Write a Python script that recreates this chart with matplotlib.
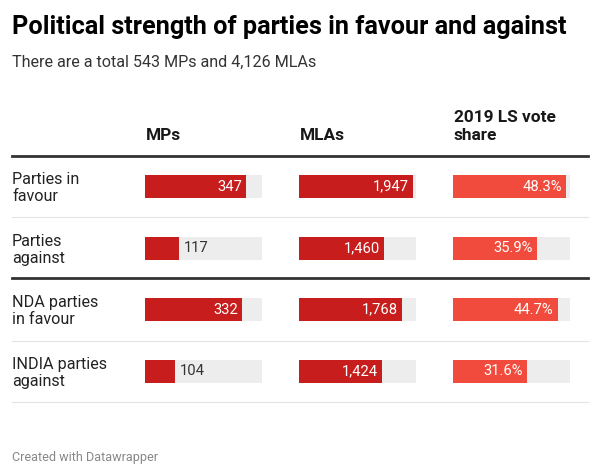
import matplotlib
matplotlib.use("Agg")
import matplotlib.pyplot as plt
from matplotlib.lines import Line2D

plt.rcParams["font.family"] = ["Roboto", "DejaVu Sans"]

# ---- data ----
title = "Political strength of parties in favour and against"
subtitle = "There are a total 543 MPs and 4,126 MLAs"
footer = "Created with Datawrapper"
row_labels = ["Parties in\nfavour", "Parties\nagainst", "NDA parties\nin favour", "INDIA parties\nagainst"]
col_headers = ["MPs", "MLAs", "2019 LS vote\nshare"]
mps = [347, 117, 332, 104]
mlas = [1947, 1460, 1768, 1424]
vote_share = [48.3, 35.9, 44.7, 31.6]

W, H = 600, 475
fig = plt.figure(figsize=(6, 4.75), dpi=100)
fig.patch.set_facecolor("white")


def fx(x):
    return x / W


def fy(y):
    return 1 - y / H


# title & subtitle
fig.text(fx(12), fy(34.3), title, fontsize=18.2, fontweight="bold", color="#000000", va="baseline", ha="left")
fig.text(fx(12), fy(62), subtitle, fontsize=11.6, color="#333333", va="center", ha="left")
fig.text(fx(12), fy(457), footer, fontsize=9.1, color="#888888", va="center", ha="left")

# column layout
col_x = [145, 299, 453]
col_w = 117
col_max = [400, 2000, 50]
col_color = ["#C71E1D", "#C71E1D", "#F04B3C"]
col_vals = [mps, mlas, vote_share]
col_fmt = [lambda v: f"{v:,}", lambda v: f"{v:,}", lambda v: f"{v:.1f}%"]

# headers
for x, h in zip(col_x, col_headers):
    fig.text(fx(x + 0.5), fy(140), h, fontsize=12.4, fontweight="bold", color="#181818",
             va="baseline", ha="left", linespacing=1.28)

# table area
top, bottom = 156, 402
n = len(row_labels)
row_h = (bottom - top) / n
for i, lab in enumerate(row_labels):
    cy = top + row_h * (i + 0.5) + 1.5
    fig.text(fx(12), fy(cy), lab, fontsize=11.6, color="#222222", va="center", ha="left",
             linespacing=1.2)

ys = list(range(n))
for x, vmax, color, vals, fmt in zip(col_x, col_max, col_color, col_vals, col_fmt):
    ax = fig.add_axes([fx(x), fy(bottom), col_w / W, (bottom - top) / H])
    ax.set_xlim(0, vmax)
    ax.set_ylim(n - 0.5, -0.5)
    ax.axis("off")
    bh = 0.37
    ax.barh(ys, [vmax] * n, height=bh, color="#EDEDED", linewidth=0)
    ax.barh(ys, vals, height=bh, color=color, linewidth=0)
    for y, v in zip(ys, vals):
        if v / vmax > 0.35:
            ax.annotate(fmt(v), (v, y), xytext=(-3, 0), textcoords="offset points",
                        ha="right", va="center", color="white", fontsize=10.6)
        else:
            ax.annotate(fmt(v), (v, y), xytext=(3, 0), textcoords="offset points",
                        ha="left", va="center", color="#333333", fontsize=10.6)

# rules
def hline(y, lw, color):
    fig.add_artist(Line2D([fx(12), fx(588)], [fy(y), fy(y)], lw=lw, color=color,
                          transform=fig.transFigure))


hline(155.7, 2.0, "#333333")
hline(278.3, 2.0, "#333333")
hline(217.3, 0.8, "#E3E3E3")
hline(341, 0.8, "#E3E3E3")
hline(402, 0.8, "#E3E3E3")

fig.savefig("out.png", dpi=100, facecolor="white")
